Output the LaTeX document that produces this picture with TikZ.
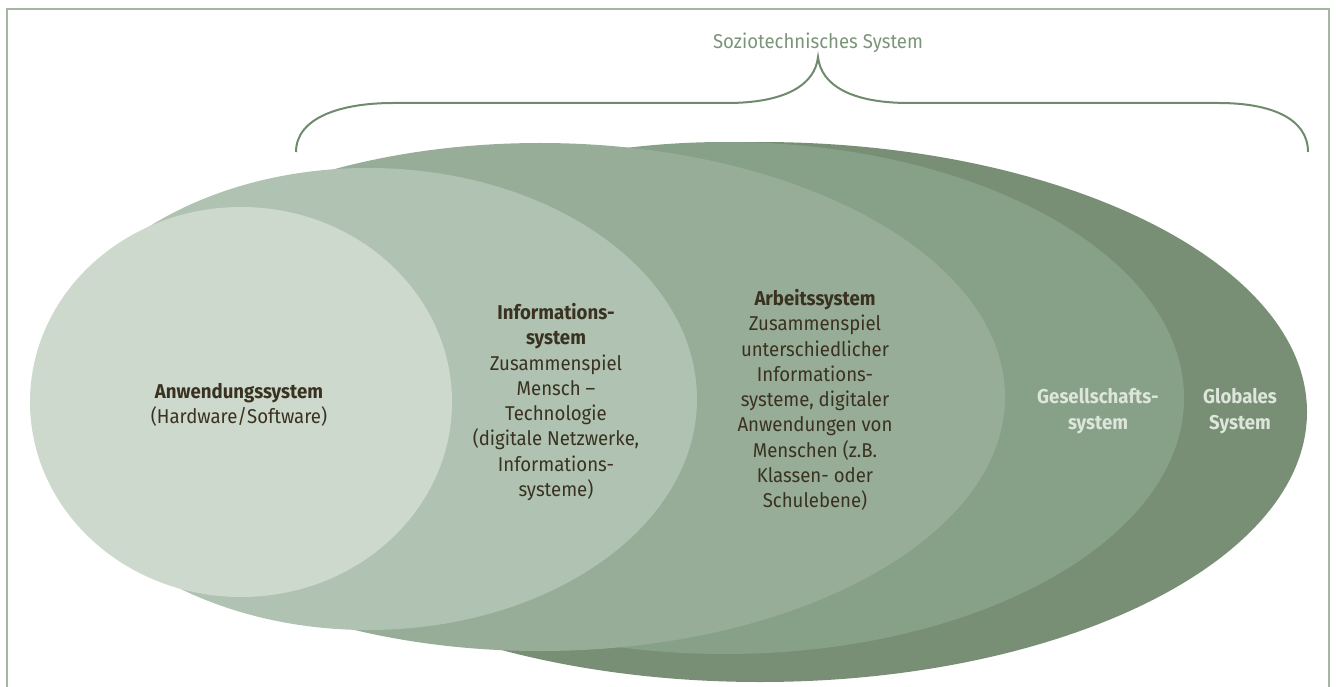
\documentclass[tikz,border=0pt]{standalone}
\usepackage{fontspec}
\setmainfont{Fira Sans}[FakeStretch=0.93]
\definecolor{globcol}{HTML}{788F76}
\definecolor{gescol}{HTML}{87A088}
\definecolor{arbcol}{HTML}{97AD98}
\definecolor{infocol}{HTML}{B0C2B1}
\definecolor{anwcol}{HTML}{CDD9CD}
\definecolor{framecol}{HTML}{A5B6A3}
\definecolor{bracecol}{HTML}{6F8A6D}
\definecolor{darktext}{HTML}{3A3220}
\definecolor{lighttext}{HTML}{DDE6DB}
\definecolor{titletext}{HTML}{7B9579}
\tikzset{
  lbl/.style={align=center, inner sep=0pt, text=darktext, font=\fontsize{20}{25.3}\selectfont},
  lightlbl/.style={lbl, text=lighttext, font=\fontsize{20}{25.3}\selectfont\bfseries}
}
\begin{document}
\begin{tikzpicture}[x=1pt,y=-1pt]
\useasboundingbox (0,0) rectangle (1336,687);
\draw[framecol, line width=2pt] (7,687) -- (7,9) -- (1329,9) -- (1329,687);

% nested systems, outermost first
\fill[globcol] (760,412) ellipse [x radius=547, y radius=270];
\fill[gescol] (725,398) ellipse [x radius=459, y radius=256];
\fill[arbcol] (540,397) ellipse [x radius=465, y radius=254];
\fill[infocol] (368,399) ellipse [x radius=329, y radius=231];
\fill[anwcol] (241,402) ellipse [x radius=211, y radius=195];

\node[lbl] (anw) at (239,405) {\textbf{Anwendungssystem}\\(Hardware/Software)};
\node[lbl] (info) at (556,402) {\textbf{Informations-}\\\textbf{system}\\Zusammenspiel\\Mensch –\\Technologie\\(digitale Netzwerke,\\Informations-\\systeme)};
\node[lbl] (arb) at (815,400) {\textbf{Arbeitssystem}\\Zusammenspiel\\unterschiedlicher\\Informations-\\systeme, digitaler\\Anwendungen von\\Menschen (z.B.\\Klassen- oder\\Schulebene)};
\node[lightlbl] (ges) at (1098,411) {Gesellschafts-\\system};
\node[lightlbl] (glob) at (1240,411) {Globales\\System};

% brace
\node[lbl, text=titletext] (title) at (818,43) {Soziotechnisches System};
\coordinate (bl) at (296,152);
\coordinate (tip) at (818,57);
\coordinate (br) at (1308,152);
\draw[bracecol, line width=2pt] (bl) .. controls (296,118) and (340,103) .. (393,103) -- (727,103)
  .. controls (785,103) and (815,85) .. (tip)
  .. controls (821,85) and (851,103) .. (909,103) -- (1219,103)
  .. controls (1270,103) and (1308,118) .. (br);
\end{tikzpicture}
\end{document}
